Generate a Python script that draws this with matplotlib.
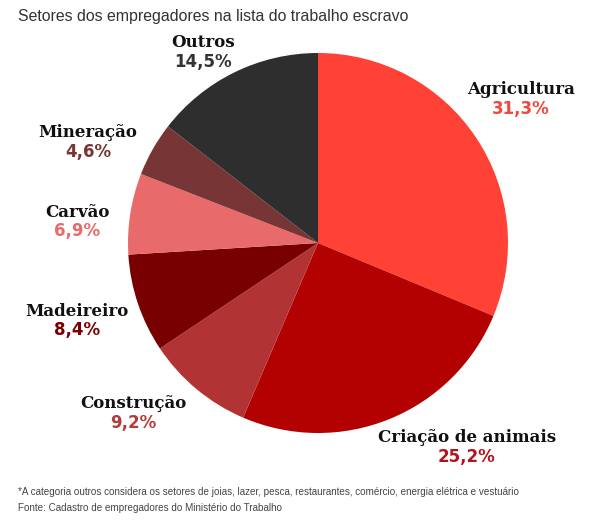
import matplotlib.pyplot as plt
import numpy as np

setores = ["Agricultura", "Criação de animais", "Construção", "Madeireiro",
           "Carvão", "Mineração", "Outros"]
valores = [31.3, 25.2, 9.2, 8.4, 6.9, 4.6, 14.5]
rotulos = ["31,3%", "25,2%", "9,2%", "8,4%", "6,9%", "4,6%", "14,5%"]
cores = ["#ff4136", "#b30000", "#b23333", "#780000", "#e86a6a", "#783535", "#2e2e2e"]
cores_txt = ["#f0483e", "#b5121b", "#b53a3a", "#780000", "#e86a6a", "#783535", "#333333"]
# label block centres, in pie radius units
pos_rot = [(1.068, 0.758), (0.784, -1.074), (-0.974, -0.897), (-1.268, -0.408),
           (-1.268, 0.113), (-1.211, 0.529), (-0.605, 1.005)]

W, H = 614, 520
cx, cy, R = 318, 243, 190

fig = plt.figure(figsize=(W / 100, H / 100), dpi=100)
ax = fig.add_axes([(cx - R) / W, (H - cy - R) / H, 2 * R / W, 2 * R / H])
ax.pie(valores, colors=cores, startangle=90, counterclock=False, radius=1,
       wedgeprops=dict(linewidth=0))
ax.set_xlim(-1, 1)
ax.set_ylim(-1, 1)
ax.set_aspect("equal")
ax.axis("off")

for nome, rot, c, (x, y) in zip(setores, rotulos, cores_txt, pos_rot):
    ax.text(x, y + 0.05, nome, ha="center", va="center", fontsize=12,
            fontweight="bold", family="DejaVu Serif", color="#111111")
    ax.text(x, y - 0.052, rot, ha="center", va="center", fontsize=12,
            fontweight="bold", family="DejaVu Sans", color=c)

fig.text(18 / W, 1 - 17 / H, "Setores dos empregadores na lista do trabalho escravo",
         ha="left", va="center", fontsize=11.4, family="Liberation Sans", color="#333333")
fig.text(18 / W, 1 - 492 / H,
         "*A categoria outros considera os setores de joias, lazer, pesca, restaurantes, comércio, energia elétrica e vestuário",
         ha="left", va="center", fontsize=7.15, family="Liberation Sans", color="#444444")
fig.text(18 / W, 1 - 508 / H, "Fonte: Cadastro de empregadores do Ministério do Trabalho",
         ha="left", va="center", fontsize=7.15, family="Liberation Sans", color="#444444")

fig.savefig("out.png", dpi=100, facecolor="white")
